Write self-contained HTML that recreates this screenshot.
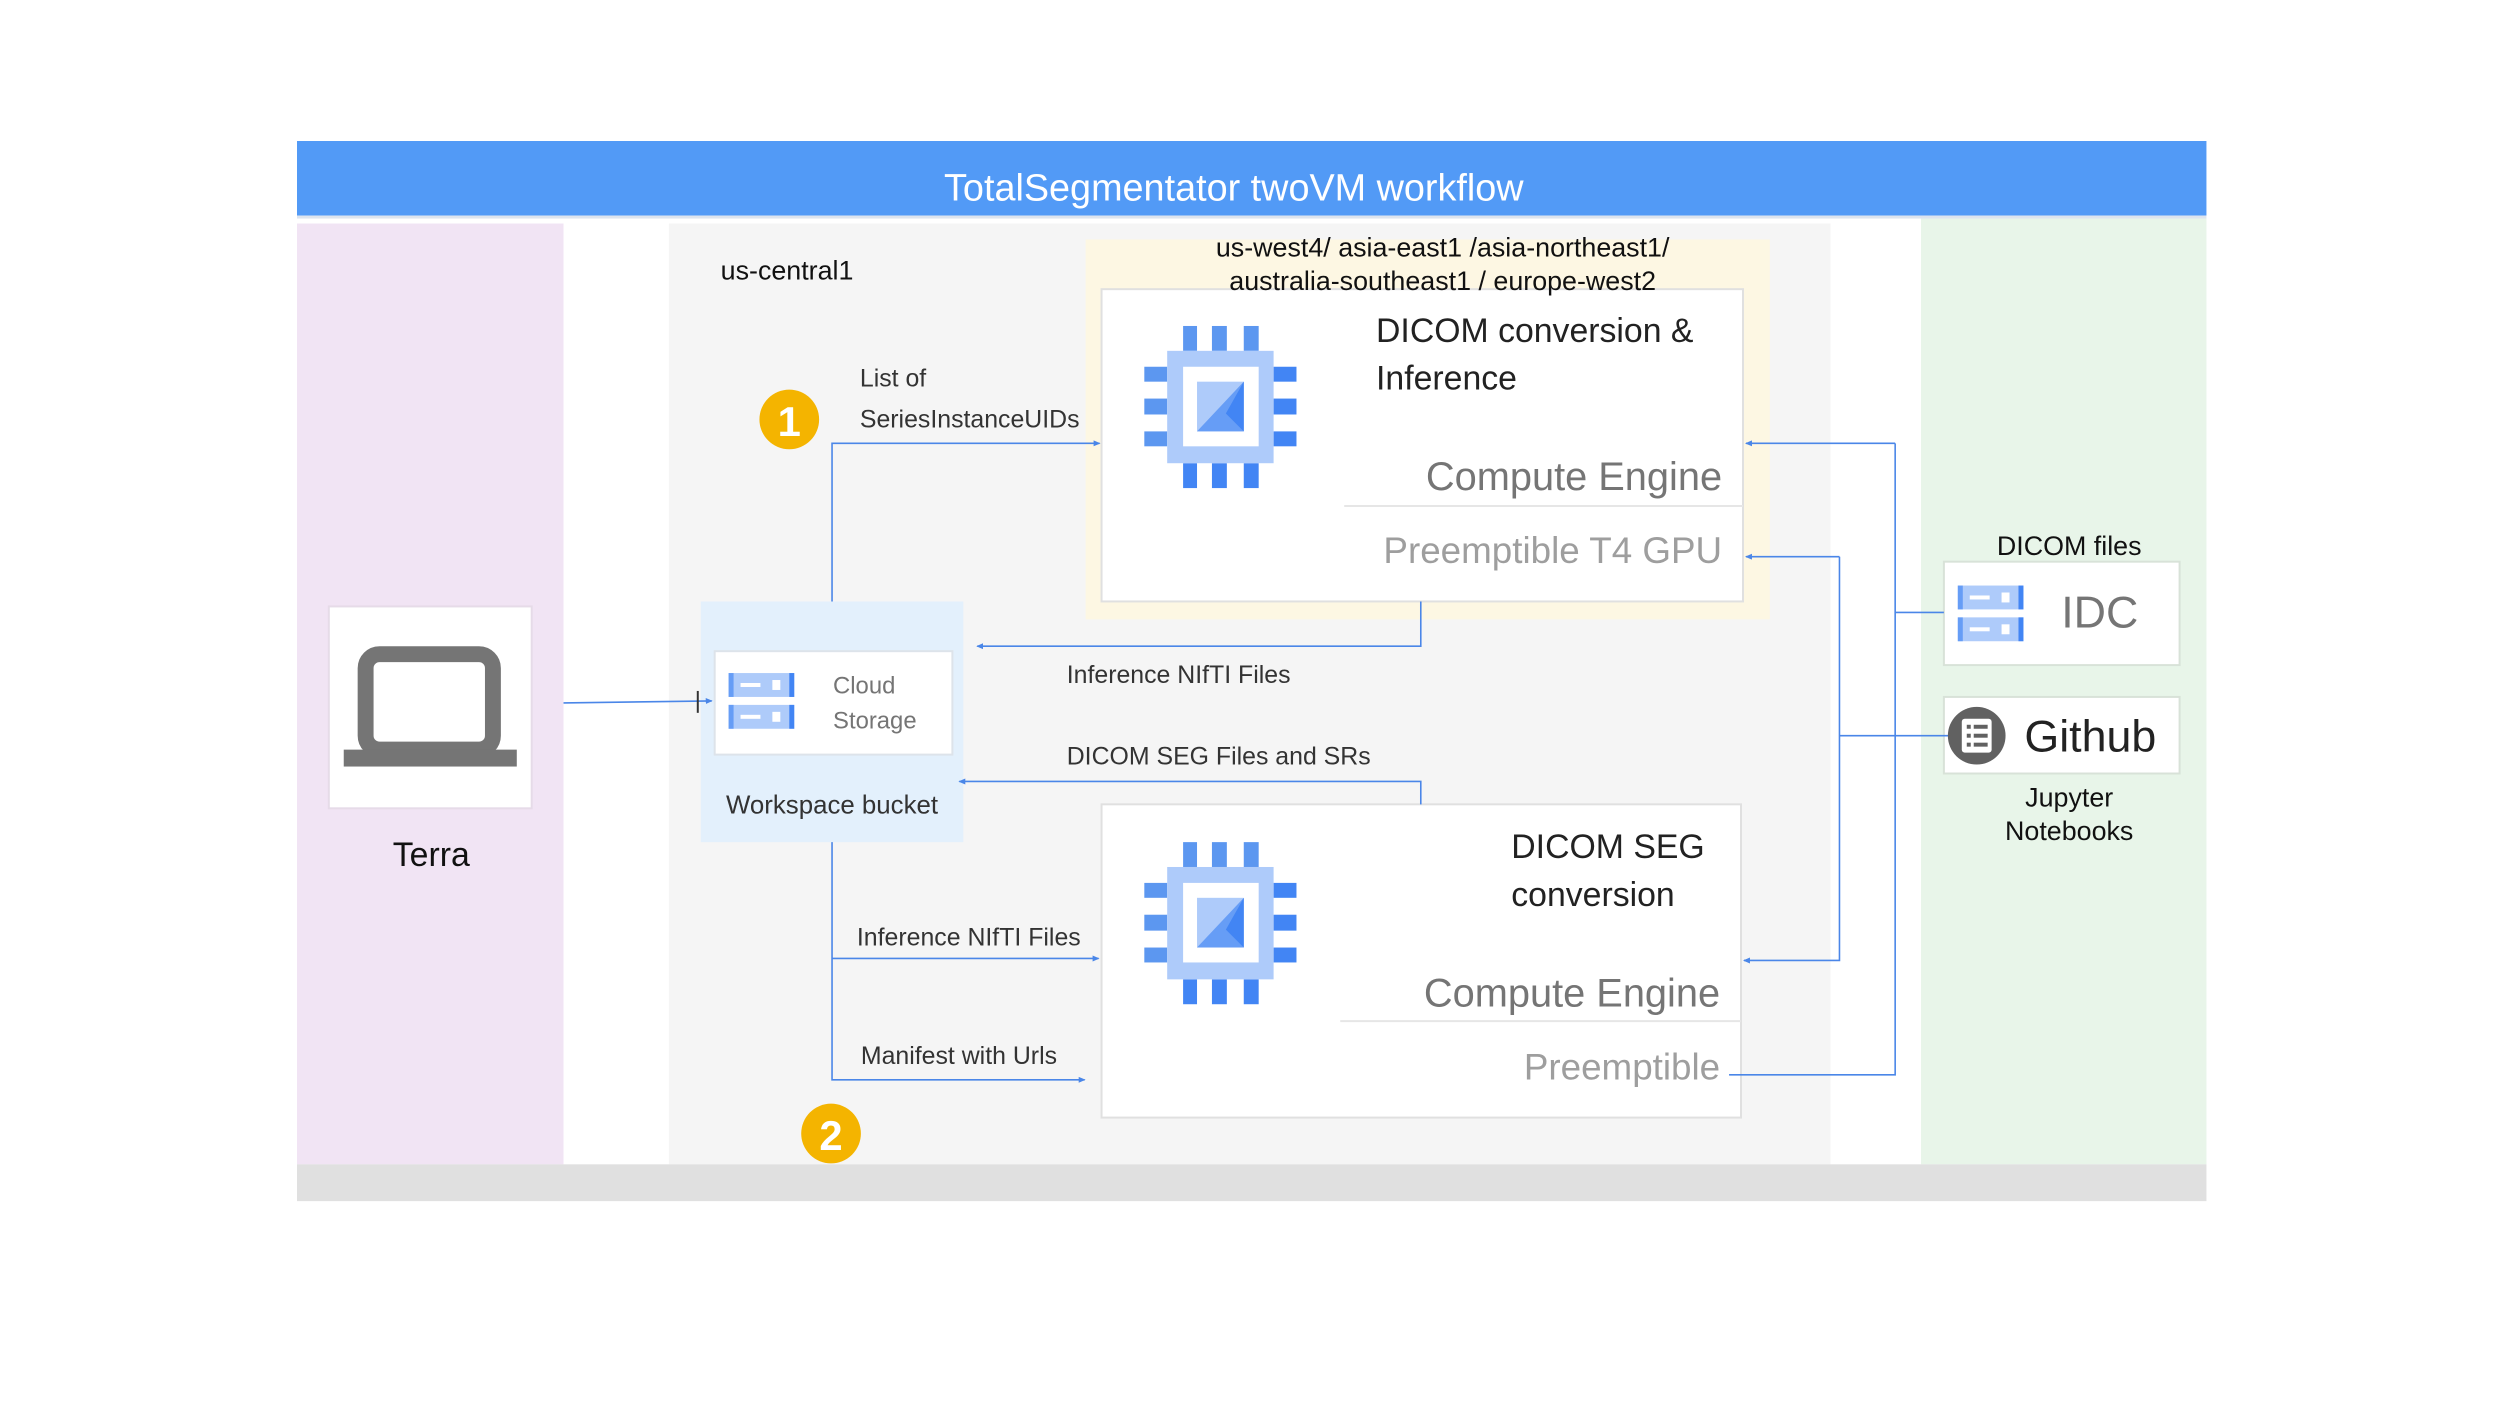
<!DOCTYPE html>
<html><head><meta charset="utf-8"><style>
html,body{margin:0;padding:0;background:#fff}
svg{display:block}
text{font-family:"Liberation Sans",sans-serif}
</style></head><body>
<svg width="2500" height="1406" viewBox="0 0 2500 1406" xmlns="http://www.w3.org/2000/svg">
<defs>
<marker id="a" markerWidth="8" markerHeight="8" refX="6" refY="4" orient="auto" markerUnits="userSpaceOnUse"><path d="M0,1 L7,4 L0,7 Z" fill="#4a86e8"/></marker>
<g id="chip">
 <g fill="#5c97f0">
  <rect x="39" y="0" width="14" height="25"/><rect x="68" y="0" width="15" height="25"/><rect x="100" y="0" width="15" height="25"/>
  <rect x="0" y="41" width="23" height="15"/><rect x="0" y="73" width="23" height="16"/><rect x="0" y="106" width="23" height="15"/>
 </g>
 <g fill="#4285f4">
  <rect x="130" y="41" width="23" height="15"/><rect x="130" y="73" width="23" height="16"/><rect x="130" y="106" width="23" height="15"/>
  <rect x="39" y="138" width="14" height="25"/><rect x="68" y="138" width="15" height="25"/><rect x="100" y="138" width="15" height="25"/>
 </g>
 <rect x="23" y="25" width="107" height="113" fill="#aecbfa"/>
 <rect x="39" y="41" width="76" height="80" fill="#fff"/>
 <rect x="53" y="56" width="47" height="50" fill="#aecbfa"/>
 <path d="M100,56 L100,106 L53,106 Z" fill="#669df6"/>
 <path d="M100,56 L100,106 L82,88 Z" fill="#4285f4"/>
</g>
<g id="stor">
 <rect x="0" y="0" width="66" height="24" fill="#aecbfa"/><rect x="0" y="0" width="5" height="24" fill="#669df6"/><rect x="61" y="0" width="5" height="24" fill="#4285f4"/>
 <rect x="12" y="10" width="20" height="4" fill="#fff"/><rect x="44" y="7" width="8" height="10" fill="#fff"/>
 <rect x="0" y="32" width="66" height="24" fill="#aecbfa"/><rect x="0" y="32" width="5" height="24" fill="#669df6"/><rect x="61" y="32" width="5" height="24" fill="#4285f4"/>
 <rect x="12" y="42" width="20" height="4" fill="#fff"/><rect x="44" y="39" width="8" height="10" fill="#fff"/>
</g>
</defs>
<g transform="translate(297,141) scale(0.9945) translate(-298,-141)">
<!-- backgrounds -->
<rect x="298" y="224" width="268" height="946" fill="#f1e4f4"/>
<rect x="672" y="224" width="1168" height="946" fill="#f5f5f5"/>
<rect x="1931" y="219" width="287" height="951" fill="#e8f5e9"/>
<rect x="298" y="1170" width="1920" height="37" fill="#e0e0e0"/>
<rect x="1091" y="240" width="688" height="382" fill="#fdf7e3"/>
<rect x="298" y="141" width="1920" height="75" fill="#529af6"/>
<rect x="298" y="216" width="1920" height="3" fill="#dde4ee"/>
<text x="1240" y="189" font-size="38" fill="#fff" text-anchor="middle" dominant-baseline="central">TotalSegmentator  twoVM workflow</text>

<!-- boxes -->
<rect x="1107" y="290" width="645" height="314" fill="#fff" stroke="#e0e0e0" stroke-width="2"/>
<rect x="1107" y="808" width="643" height="315" fill="#fff" stroke="#e0e0e0" stroke-width="2"/>
<rect x="330" y="609" width="204" height="203" fill="#fff" stroke="#e6dbe8" stroke-width="2"/>
<rect x="704" y="604" width="264" height="242" fill="#e3f0fc"/>
<rect x="718" y="654" width="239" height="104" fill="#fff" stroke="#dde3ea" stroke-width="2"/>
<rect x="1954" y="564" width="237" height="104" fill="#fff" stroke="#d8e2d8" stroke-width="2"/>
<rect x="1954" y="700" width="237" height="77" fill="#fff" stroke="#d8e2d8" stroke-width="2"/>

<!-- connectors -->
<g stroke="#4a86e8" stroke-width="1.6" fill="none">
 <path d="M566,706 L715,704" marker-end="url(#a)"/>
 <path d="M836,604 L836,445 L1105,445" marker-end="url(#a)"/>
 <path d="M1428,604 L1428,649 L982,649" marker-end="url(#a)"/>
 <path d="M1428,808 L1428,785 L964,785" marker-end="url(#a)"/>
 <path d="M836,846 L836,1085 L1090,1085" marker-end="url(#a)"/>
 <path d="M836,963 L1104,963" marker-end="url(#a)"/>
 <path d="M1905,615 L1954,615"/>
 <path d="M1905,445 L1905,1080 L1738,1080"/>
 <path d="M1905,445 L1755,445" marker-end="url(#a)"/>
 <path d="M1849,739 L1960,739"/>
 <path d="M1849,559 L1849,965 L1753,965" marker-end="url(#a)"/>
 <path d="M1849,559 L1755,559" marker-end="url(#a)"/>
</g>
<path d="M701,694 L701,716" stroke="#333" stroke-width="2"/>

<!-- icons -->
<use href="#chip" x="1150" y="327"/>
<use href="#chip" x="1150" y="846"/>
<use href="#stor" x="732" y="676"/>
<use href="#stor" x="1968" y="588"/>
<rect x="367" y="657" width="128" height="96" rx="14" fill="none" stroke="#757575" stroke-width="16"/>
<rect x="345" y="753" width="174" height="17" fill="#757575"/>
<circle cx="1987" cy="739" r="29" fill="#616161"/>
<rect x="1972" y="722" width="30" height="34" rx="3" fill="#fff"/>
<g fill="#616161"><rect x="1977" y="728" width="4" height="4"/><rect x="1984" y="728" width="14" height="4"/><rect x="1977" y="737" width="4" height="4"/><rect x="1984" y="737" width="14" height="4"/><rect x="1977" y="746" width="4" height="4"/><rect x="1984" y="746" width="14" height="4"/></g>

<!-- circles -->
<circle cx="793" cy="421" r="30" fill="#f4b400"/>
<text x="793" y="423" font-size="42" font-weight="bold" fill="#fff" text-anchor="middle" dominant-baseline="central">1</text>
<circle cx="835" cy="1139" r="30" fill="#f4b400"/>
<text x="835" y="1141" font-size="42" font-weight="bold" fill="#fff" text-anchor="middle" dominant-baseline="central">2</text>

<!-- texts -->
<g dominant-baseline="central">
<text x="724" y="271" font-size="27" fill="#111">us-central1</text>
<text x="1450" y="248" font-size="27" fill="#111" text-anchor="middle">us-west4/ asia-east1 /asia-northeast1/</text>
<text x="1450" y="282" font-size="27" fill="#111" text-anchor="middle">australia-southeast1 / europe-west2</text>
<text x="864" y="380" font-size="25" fill="#333">List of</text>
<text x="864" y="421" font-size="25" fill="#333">SeriesInstanceUIDs</text>
<text x="1072" y="678" font-size="25" fill="#333">Inference  NIfTI Files</text>
<text x="1072" y="760" font-size="25" fill="#333">DICOM SEG Files and SRs</text>
<text x="861" y="942" font-size="25" fill="#333">Inference NIfTI Files</text>
<text x="865" y="1061" font-size="25" fill="#333">Manifest with Urls</text>
<text x="837" y="689" font-size="24" fill="#757575">Cloud</text>
<text x="837" y="724" font-size="24" fill="#757575">Storage</text>
<text x="836" y="809" font-size="26" fill="#333" text-anchor="middle">Workspace bucket</text>
<text x="433" y="859" font-size="34" fill="#111" text-anchor="middle">Terra</text>
<text x="1383" y="332" font-size="34" fill="#222">DICOM conversion &amp;</text>
<text x="1383" y="380" font-size="34" fill="#222">Inference</text>
<text x="1731" y="479" font-size="40" fill="#757575" text-anchor="end">Compute Engine</text>
<text x="1731" y="553" font-size="37" fill="#9e9e9e" text-anchor="end">Preemptible T4 GPU</text>
<text x="1519" y="851" font-size="34" fill="#222">DICOM SEG</text>
<text x="1519" y="899" font-size="34" fill="#222">conversion</text>
<text x="1729" y="998" font-size="40" fill="#757575" text-anchor="end">Compute Engine</text>
<text x="1729" y="1072" font-size="37" fill="#9e9e9e" text-anchor="end">Preemptible</text>
<text x="2080" y="548" font-size="27" fill="#111" text-anchor="middle">DICOM files</text>
<text x="2072" y="615" font-size="45" fill="#757575">IDC</text>
<text x="2035" y="740" font-size="45" fill="#222">Github</text>
<text x="2080" y="801" font-size="27" fill="#111" text-anchor="middle">Jupyter</text>
<text x="2080" y="835" font-size="27" fill="#111" text-anchor="middle">Notebooks</text>
</g>
<line x1="1351" y1="508" x2="1752" y2="508" stroke="#e6e6e6" stroke-width="2"/>
<line x1="1347" y1="1026" x2="1750" y2="1026" stroke="#e6e6e6" stroke-width="2"/>
</g>
</svg>
</body></html>
